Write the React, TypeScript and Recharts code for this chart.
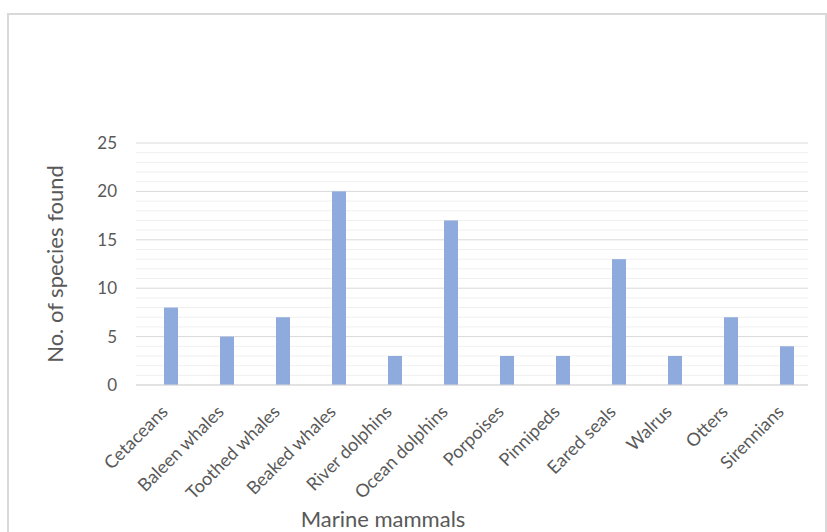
import { BarChart, Bar, XAxis, YAxis, CartesianGrid } from "recharts";

const categories = [
  "Cetaceans",
  "Baleen whales",
  "Toothed whales",
  "Beaked whales",
  "River dolphins",
  "Ocean dolphins",
  "Porpoises",
  "Pinnipeds",
  "Eared seals",
  "Walrus",
  "Otters",
  "Sirennians",
];
const speciesFound = [8, 5, 7, 20, 3, 17, 3, 3, 13, 3, 7, 4];
// one gridline per unit, labels only every 5
const yTicks = [
  0, 1, 2, 3, 4, 5, 6, 7, 8, 9, 10, 11, 12, 13, 14, 15, 16, 17, 18, 19, 20,
  21, 22, 23, 24, 25,
];
const labelStep = 5;

const data = categories.map((name, i) => ({ name, species: speciesFound[i] }));

const FONT = "Lato, 'Open Sans', sans-serif";
const TEXT = "#595959";

// excel draws the bar in the right half of a two-slot cluster
const ShiftedBar = (props: any) => {
  const { x, y, width, height, fill } = props;
  return <rect x={x + width / 2} y={y} width={width} height={height} fill={fill} />;
};

const CategoryTick = (props: any) => {
  const { x, y, payload } = props;
  return (
    <g transform={`translate(${x + 5},${y + 20})`}>
      <text
        x={0}
        y={0}
        textAnchor="end"
        transform="rotate(-45)"
        fill={TEXT}
        fontSize={18}
        fontFamily={FONT}
      >
        {payload.value}
      </text>
    </g>
  );
};

const ValueTick = (props: any) => {
  const { x, y, payload } = props;
  if (payload.value % labelStep !== 0) return <g />;
  return (
    <text
      x={x}
      y={y}
      dy="0.355em"
      textAnchor="end"
      fill={TEXT}
      fontSize={17}
      fontFamily={FONT}
    >
      {payload.value}
    </text>
  );
};

const GridLine = (props: any) => {
  const { x1, x2, y1, y2, index } = props;
  const major = yTicks[index] % labelStep === 0;
  return (
    <line
      x1={x1}
      x2={x2}
      y1={y1}
      y2={y2}
      stroke={major ? "#D9D9D9" : "#F0F0F0"}
      strokeWidth={1}
    />
  );
};

export default function App() {
  return (
    <div
      style={{
        position: "absolute",
        left: 0,
        top: 0,
        width: 827,
        height: 532,
        background: "#fff",
        overflow: "hidden",
      }}
    >
      <div
        style={{
          position: "absolute",
          left: 7,
          top: 13,
          width: 816,
          height: 540,
          border: "2px solid #D9D9D9",
        }}
      />
      <div style={{ position: "absolute", left: 0, top: 0 }}>
        <BarChart
          width={827}
          height={532}
          data={data}
          margin={{ top: 143, right: 19, bottom: 0, left: 0 }}
          barCategoryGap={14}
        >
          <CartesianGrid vertical={false} horizontal={<GridLine />} />
          <YAxis
            width={136}
            domain={[0, 25]}
            ticks={yTicks}
            interval={0}
            axisLine={false}
            tickLine={false}
            tickSize={0}
            tickMargin={19}
            tick={<ValueTick />}
            label={{
              value: "No. of species found",
              angle: -90,
              position: "center",
              dx: -13,
              fill: TEXT,
              fontSize: 22,
              fontFamily: FONT,
            }}
          />
          <XAxis
            dataKey="name"
            height={147}
            interval={0}
            axisLine={{ stroke: "#D9D9D9" }}
            tickLine={false}
            tick={<CategoryTick />}
            label={{
              value: "Marine mammals",
              position: "insideBottom",
              offset: 5,
              dx: -89,
              fill: TEXT,
              fontSize: 22,
              fontFamily: FONT,
            }}
          />
          <Bar
            dataKey="species"
            fill="#8FAADC"
            barSize={14}
            shape={<ShiftedBar />}
            isAnimationActive={false}
          />
        </BarChart>
      </div>
    </div>
  );
}
